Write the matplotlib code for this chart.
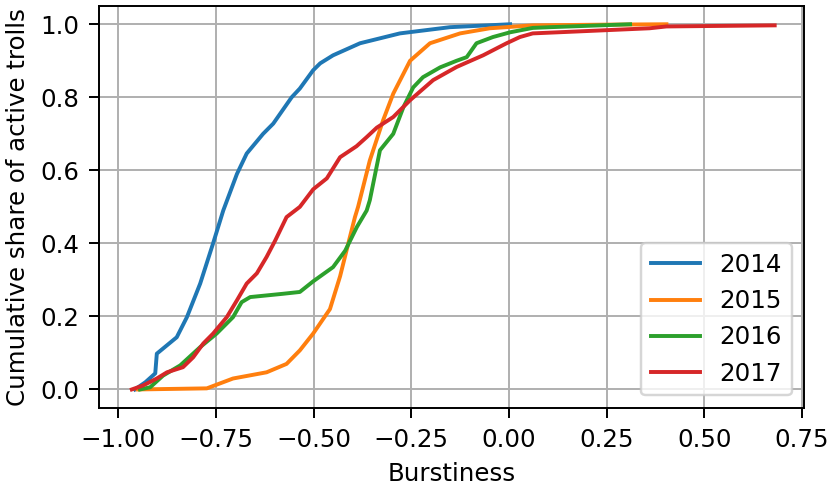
import numpy as np
import matplotlib
matplotlib.use("Agg")
import matplotlib.pyplot as plt

# burstiness CDF points per year
years = ["2014", "2015", "2016", "2017"]

x_2014 = [-0.957, -0.93, -0.905, -0.901, -0.85, -0.824, -0.79, -0.757, -0.731, -0.696,
          -0.671, -0.629, -0.603, -0.556, -0.535, -0.501, -0.483, -0.45, -0.381, -0.279,
          -0.151, 0.003]
y_2014 = [0.0, 0.02, 0.044, 0.098, 0.143, 0.198, 0.29, 0.40, 0.49, 0.59,
          0.646, 0.70, 0.728, 0.80, 0.824, 0.874, 0.893, 0.915, 0.948, 0.975,
          0.992, 1.0]

x_2015 = [-0.95, -0.773, -0.706, -0.62, -0.569, -0.535, -0.501, -0.458, -0.432, -0.411,
          -0.394, -0.386, -0.356, -0.322, -0.296, -0.253, -0.202, -0.125, -0.049, 0.06,
          0.25, 0.403]
y_2015 = [0.0, 0.003, 0.03, 0.047, 0.07, 0.107, 0.153, 0.22, 0.31, 0.40,
          0.472, 0.50, 0.627, 0.737, 0.81, 0.90, 0.948, 0.975, 0.989, 0.997,
          0.999, 1.0]

x_2016 = [-0.944, -0.918, -0.885, -0.841, -0.79, -0.748, -0.706, -0.684, -0.662, -0.578,
          -0.535, -0.501, -0.45, -0.419, -0.389, -0.364, -0.356, -0.33, -0.296, -0.27,
          -0.245, -0.22, -0.176, -0.134, -0.108, -0.083, -0.041, 0.003, 0.061, 0.105,
          0.31]
y_2016 = [0.0, 0.006, 0.038, 0.066, 0.116, 0.153, 0.198, 0.239, 0.253, 0.262,
          0.267, 0.296, 0.335, 0.38, 0.445, 0.49, 0.518, 0.655, 0.70, 0.773,
          0.827, 0.855, 0.882, 0.90, 0.91, 0.948, 0.965, 0.978, 0.990, 0.992,
          1.0]

x_2017 = [-0.965, -0.936, -0.901, -0.875, -0.834, -0.808, -0.782, -0.757, -0.722, -0.696,
          -0.671, -0.645, -0.62, -0.598, -0.569, -0.535, -0.501, -0.466, -0.432, -0.39,
          -0.364, -0.338, -0.296, -0.253, -0.194, -0.134, -0.066, -0.006, 0.028, 0.061,
          0.147, 0.36, 0.403, 0.68]
y_2017 = [0.0, 0.011, 0.03, 0.047, 0.061, 0.088, 0.126, 0.153, 0.198, 0.244,
          0.29, 0.318, 0.363, 0.408, 0.472, 0.50, 0.548, 0.578, 0.636, 0.666,
          0.691, 0.717, 0.746, 0.792, 0.847, 0.883, 0.915, 0.948, 0.965, 0.975,
          0.979, 0.989, 0.994, 0.997]

series = [(x_2014, y_2014), (x_2015, y_2015), (x_2016, y_2016), (x_2017, y_2017)]

dpi = 176
fig = plt.figure(figsize=(831 / dpi, 492 / dpi), dpi=dpi)
ax = fig.add_axes([0.1191, 0.1713, 0.8484, 0.8165])

for year, (xs, ys) in zip(years, series):
    ax.plot(xs, ys, linewidth=1.6, label=year)

ax.set_xlim(-1.049, 0.755)
ax.set_ylim(-0.05, 1.05)
ax.set_xticks([-1.0, -0.75, -0.5, -0.25, 0.0, 0.25, 0.5, 0.75])
ax.set_yticks([0.0, 0.2, 0.4, 0.6, 0.8, 1.0])
ax.tick_params(length=4.2, pad=4.0)
ax.grid(True)
ax.set_xlabel("Burstiness", labelpad=4.0)
ax.set_ylabel("Cumulative share of active trolls", labelpad=4.0)
ax.legend(loc="lower right")

fig.savefig("out.png", dpi=dpi)
